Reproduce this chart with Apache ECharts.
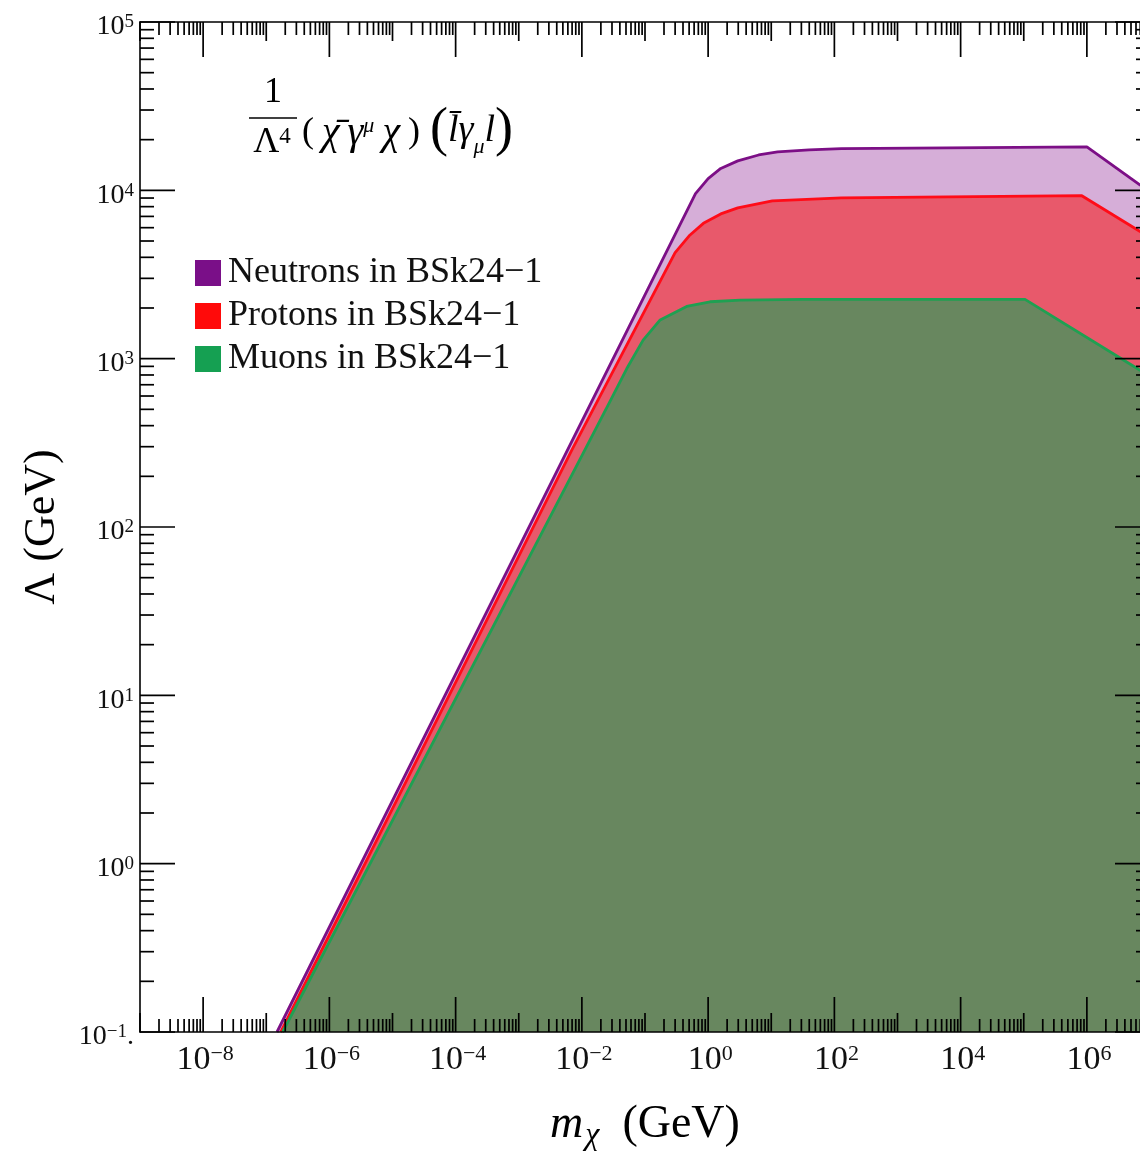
<!DOCTYPE html>
<html>
<head>
<meta charset="utf-8">
<script src="https://cdn.jsdelivr.net/npm/echarts@6/dist/echarts.min.js"></script>
<style>
  html, body { margin: 0; padding: 0; background: #ffffff; }
  #chart { width: 1140px; height: 1155px; }
</style>
</head>
<body>
<div id="chart"></div>
<script>
// Lower bounds on the suppression scale Λ versus dark-matter mass m_χ (log–log)
const SERIF = '"Liberation Serif", "Times New Roman", serif';

const X_MIN = 1e-9, X_MAX = 1e7;
const Y_MIN = 0.1, Y_MAX = 1e5;

const seriesNames = ['Neutrons in BSk24−1', 'Protons in BSk24−1', 'Muons in BSk24−1'];

// [m_χ (GeV), Λ (GeV)]
const neutrons = [
  [1.48e-7, 0.1], [0.631, 9550], [1.0, 11750], [1.585, 13490], [2.95, 14960],
  [6.31, 16220], [12.6, 16900], [39.8, 17380], [129, 17700], [1.0e6, 18110], [7.08e6, 10720]
];
const protons = [
  [1.70e-7, 0.1], [6.92e-3, 286.4], [0.300, 4266], [0.501, 5370], [0.841, 6368],
  [1.585, 7244], [2.95, 7870], [10.4, 8650], [129, 9016], [8.32e5, 9290], [7.08e6, 5675]
];
const muons = [
  [1.82e-7, 0.1], [1.122e-2, 288.4], [2.818e-2, 562], [5.129e-2, 871], [9.333e-2, 1288],
  [0.1738, 1698], [0.4571, 2042], [1.0715, 2178], [3.236, 2228], [31.6, 2249],
  [1.047e5, 2249], [7.08e6, 851]
];

// axis decorations
const xLabelExps = [-8, -6, -4, -2, 0, 2, 4, 6];
const xOddExps = [-9, -7, -5, -3, -1, 1, 3, 5, 7];
const yExps = [-1, 0, 1, 2, 3, 4, 5];
const yLabelTexts = ['10{s|−1}.', '10{s|0}', '10{s|1}', '10{s|2}', '10{s|3}', '10{s|4}', '10{s|5}'];
const minorSteps = [2, 3, 4, 5, 6, 7, 8, 9];

const lineColors = ['#7c0f86', '#ff0c18', '#1fa052'];
const fillColors = ['#d6aed8', '#e8596b', '#68875f'];
const keyColors = ['#7a0f88', '#ff0a0a', '#15a052'];

// tick list: x-ticks drawn on bottom + top, y-ticks on left + right
const ticks = [];
xLabelExps.forEach(e => ticks.push({ axis: 'x', v: Math.pow(10, e), len: 35 }));
xOddExps.forEach(e => ticks.push({ axis: 'x', v: Math.pow(10, e), len: 19 }));
for (let e = -9; e < 7; e++) {
  minorSteps.forEach(k => ticks.push({ axis: 'x', v: k * Math.pow(10, e), len: 13 }));
}
yExps.forEach(e => ticks.push({ axis: 'y', v: Math.pow(10, e), len: 35 }));
for (let e = -1; e < 5; e++) {
  minorSteps.forEach(k => ticks.push({ axis: 'y', v: k * Math.pow(10, e), len: 14 }));
}

const labels = [];
xLabelExps.forEach(e => labels.push({
  axis: 'x', v: Math.pow(10, e),
  text: '10{s|' + (e < 0 ? '−' + (-e) : e) + '}'
}));
yExps.forEach((e, i) => labels.push({ axis: 'y', v: Math.pow(10, e), text: yLabelTexts[i] }));

const chart = echarts.init(document.getElementById('chart'), null, { renderer: 'canvas' });

const frameLine = { show: true, lineStyle: { color: '#000', width: 1.6 } };
const THIN = '\u2009';

const option = {
  animation: false,
  backgroundColor: '#ffffff',
  grid: { left: 140, top: 22, width: 1010, height: 1010, containLabel: false, outerBoundsMode: 'none' },
  xAxis: [
    {
      type: 'log', logBase: 10, min: X_MIN, max: X_MAX, position: 'bottom', z: 6,
      axisLine: frameLine, axisTick: { show: false }, axisLabel: { show: false },
      splitLine: { show: false }, minorTick: { show: false },
      name: '{i|m}{sub|χ}{n|  (GeV)}', nameLocation: 'middle', nameGap: 70,
      nameTextStyle: {
        rich: {
          i: { fontFamily: SERIF, fontStyle: 'italic', fontSize: 46, color: '#000', lineHeight: 46 },
          sub: { fontFamily: SERIF, fontStyle: 'italic', fontSize: 32, color: '#000', lineHeight: 46, padding: [22, 0, 0, 2] },
          n: { fontFamily: SERIF, fontSize: 46, color: '#000', lineHeight: 46 }
        }
      }
    },
    {
      type: 'log', logBase: 10, min: X_MIN, max: X_MAX, position: 'top', z: 6,
      axisLine: frameLine, axisTick: { show: false }, axisLabel: { show: false },
      splitLine: { show: false }
    }
  ],
  yAxis: [
    {
      type: 'log', logBase: 10, min: Y_MIN, max: Y_MAX, position: 'left', z: 6,
      axisLine: frameLine, axisTick: { show: false }, axisLabel: { show: false },
      splitLine: { show: false },
      name: 'Λ (GeV)', nameLocation: 'middle', nameGap: 76, nameRotate: 90,
      nameTextStyle: { fontFamily: SERIF, fontSize: 44, color: '#000' }
    },
    {
      type: 'log', logBase: 10, min: Y_MIN, max: Y_MAX, position: 'right', z: 6,
      axisLine: frameLine, axisTick: { show: false }, axisLabel: { show: false },
      splitLine: { show: false }
    }
  ],
  legend: {
    orient: 'vertical', left: 190, top: 250,
    icon: 'rect', itemWidth: 26, itemHeight: 26, itemGap: 7,
    data: seriesNames,
    selectedMode: false,
    textStyle: { fontFamily: SERIF, fontSize: 36, color: '#111', padding: [0, 0, 0, 2] }
  },
  series: [
    ...[neutrons, protons, muons].map((d, i) => ({
      type: 'line', name: seriesNames[i], data: d,
      showSymbol: false, symbol: 'none', smooth: false, clip: true,
      z: 2 + i,
      itemStyle: { color: keyColors[i] },
      lineStyle: { color: lineColors[i], width: 2.8 },
      areaStyle: { color: fillColors[i], opacity: 1, origin: 'start' }
    })),
    {
      type: 'custom', name: 'ticks', z: 7, silent: true,
      data: ticks.map(t => t.axis === 'x' ? [t.v, Y_MIN] : [X_MIN, t.v]),
      renderItem: function (params, api) {
        const t = ticks[params.dataIndex];
        const st = { stroke: '#000', lineWidth: 1.7 };
        if (t.axis === 'x') {
          const b = api.coord([t.v, Y_MIN]);
          const tp = api.coord([t.v, Y_MAX]);
          return { type: 'group', children: [
            { type: 'line', shape: { x1: b[0], y1: b[1], x2: b[0], y2: b[1] - t.len }, style: st },
            { type: 'line', shape: { x1: tp[0], y1: tp[1], x2: tp[0], y2: tp[1] + t.len }, style: st }
          ] };
        }
        const l = api.coord([X_MIN, t.v]);
        const r = api.coord([X_MAX, t.v]);
        return { type: 'group', children: [
          { type: 'line', shape: { x1: l[0], y1: l[1], x2: l[0] + t.len, y2: l[1] }, style: st },
          { type: 'line', shape: { x1: r[0], y1: r[1], x2: r[0] - t.len, y2: r[1] }, style: st }
        ] };
      }
    },
    {
      type: 'custom', name: 'tickLabels', z: 7, silent: true,
      data: labels.map(t => t.axis === 'x' ? [t.v, Y_MIN] : [X_MIN, t.v]),
      renderItem: function (params, api) {
        const t = labels[params.dataIndex];
        if (t.axis === 'x') {
          const p = api.coord([t.v, Y_MIN]);
          return { type: 'text', x: p[0] + 2, y: p[1] + 28, style: {
            text: t.text, align: 'center', verticalAlign: 'middle',
            fontFamily: SERIF, fontSize: 34, fill: '#111', lineHeight: 34,
            rich: { s: { fontFamily: SERIF, fontSize: 22, lineHeight: 18, verticalAlign: 'top', fill: '#111' } }
          } };
        }
        const p = api.coord([X_MIN, t.v]);
        return { type: 'text', x: p[0] - 6, y: p[1] + 5, style: {
          text: t.text, align: 'right', verticalAlign: 'middle',
          fontFamily: SERIF, fontSize: 28, fill: '#111', lineHeight: 28,
          rich: { s: { fontFamily: SERIF, fontSize: 19, lineHeight: 9, verticalAlign: 'top', fill: '#111' } }
        } };
      }
    }
  ],
  graphic: [
    { type: 'text', x: 273, y: 93, style: { text: '1', align: 'center', verticalAlign: 'middle', fontFamily: SERIF, fontSize: 36, fill: '#000' } },
    { type: 'line', shape: { x1: 249, y1: 118, x2: 297, y2: 118 }, style: { stroke: '#000', lineWidth: 1.6 } },
    { type: 'text', x: 272, y: 143, style: {
      text: 'Λ{s|4}', align: 'center', verticalAlign: 'middle', fontFamily: SERIF, fontSize: 36, fill: '#000', lineHeight: 36,
      rich: { s: { fontFamily: SERIF, fontSize: 23, lineHeight: 18, verticalAlign: 'top', fill: '#000' } }
    } },
    { type: 'text', x: 302, y: 133, style: {
      text: '{p|(}{i|' + THIN + 'χ\u0304' + THIN + 'γ}{s|μ}{i|' + THIN + 'χ' + THIN + '}{p|)}',
      align: 'left', verticalAlign: 'middle', fill: '#000',
      rich: {
        p: { fontFamily: SERIF, fontSize: 36, lineHeight: 36, fill: '#000' },
        i: { fontFamily: SERIF, fontStyle: 'italic', fontSize: 40, lineHeight: 36, fill: '#000' },
        s: { fontFamily: SERIF, fontStyle: 'italic', fontSize: 22, lineHeight: 16, verticalAlign: 'top', fill: '#000' }
      }
    } },
    { type: 'text', x: 430, y: 131, style: {
      text: '{p|(}{i|l\u0304γ}{u|μ}{i|l}{p|)}', align: 'left', verticalAlign: 'middle', fill: '#000',
      rich: {
        p: { fontFamily: SERIF, fontSize: 54, lineHeight: 54, fill: '#000' },
        i: { fontFamily: SERIF, fontStyle: 'italic', fontSize: 38, lineHeight: 54, fill: '#000' },
        u: { fontFamily: SERIF, fontStyle: 'italic', fontSize: 22, lineHeight: 30, verticalAlign: 'bottom', fill: '#000' }
      }
    } }
  ]
};

chart.setOption(option);
</script>
</body>
</html>
